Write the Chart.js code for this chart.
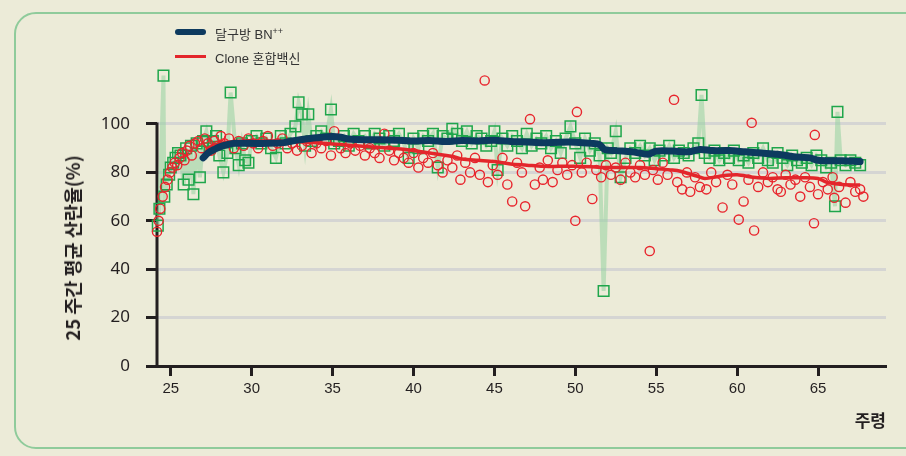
<!DOCTYPE html>
<html>
<head>
<meta charset="utf-8">
<script src="https://cdn.jsdelivr.net/npm/chart.js@4/dist/chart.umd.min.js"></script>
<style>
    html, body { margin: 0; padding: 0; background: #ecebd8; }
    #wrap { position: relative; width: 906px; height: 456px; overflow: hidden; }
    #panel {
        position: absolute; left: 14px; top: 12px; width: 960px; height: 433px;
        border: 2px solid #8fcb9b; border-radius: 22px; box-sizing: content-box;
    }
    #chart { position: absolute; left: 0; top: 0; }
    .legend-item { position: absolute; left: 175px; font: 13px 'Liberation Sans', 'Noto Sans CJK KR', sans-serif; color: #333; }
    .legend-item .swatch { position: absolute; left: 0; width: 31px; }
    .legend-item .label { position: absolute; left: 40px; white-space: nowrap; }
    .legend-item sup { font-size: 9px; vertical-align: 5px; line-height: 0; }
    #y-title {
        position: absolute; left: 72px; top: 248px; white-space: nowrap;
        transform: translate(-50%, -50%) rotate(-90deg);
        font: bold 18.5px 'Noto Sans CJK KR', sans-serif; color: #231f20;
    }
</style>
</head>
<body>
<div id="wrap">
    <div id="panel"></div>
    <canvas id="chart" width="906" height="456"></canvas>
    <div id="y-title">25 주간 평균 산란율(%)</div>
    <div class="legend-item" style="top: 24px;">
        <span class="swatch" style="top: 5px; height: 6px; border-radius: 3px; background: #0d3a5f;"></span>
        <span class="label">달구방 BN<sup>++</sup></span>
    </div>
    <div class="legend-item" style="top: 48px;">
        <span class="swatch" style="top: 7px; height: 2.5px; background: #e3262b;"></span>
        <span class="label">Clone 혼합백신</span>
    </div>
</div>
<script>
    'use strict';

    // weekly values [age in weeks, laying rate %]
    var bnPoints = [
        [24.2, 58], [24.3, 65], [24.55, 120], [24.6, 70], [24.75, 75], [24.9, 79], [25.0, 82], [25.15, 84],
        [25.3, 86], [25.45, 88], [25.6, 87], [25.8, 75], [25.95, 90], [26.1, 77], [26.25, 91], [26.4, 71],
        [26.6, 92], [26.8, 78], [27.0, 93], [27.2, 97], [27.4, 90], [27.6, 93], [27.8, 95], [28.0, 87],
        [28.25, 80], [28.5, 88], [28.7, 113], [29.0, 90], [29.2, 83], [29.4, 92], [29.6, 85], [29.8, 84],
        [30.0, 93], [30.3, 95], [30.6, 92], [30.9, 94], [31.2, 90], [31.5, 86], [31.8, 95], [32.1, 92],
        [32.4, 96], [32.7, 99], [32.9, 109], [33.1, 104], [33.3, 91], [33.5, 104], [33.7, 93], [34.0, 95],
        [34.3, 97], [34.6, 94], [34.9, 106], [35.1, 92], [35.4, 93], [35.7, 95], [36.0, 91], [36.3, 96],
        [36.6, 93], [37.0, 95], [37.3, 92], [37.6, 96], [37.9, 94], [38.2, 91], [38.5, 95], [38.8, 93],
        [39.1, 96], [39.4, 92], [39.7, 86], [40.0, 94], [40.3, 90], [40.6, 95], [40.9, 93], [41.2, 96],
        [41.5, 82], [41.8, 95], [42.1, 94], [42.4, 98], [42.7, 96], [43.0, 93], [43.3, 97], [43.6, 92],
        [43.9, 95], [44.2, 94], [44.5, 91], [44.8, 93], [45.0, 97], [45.2, 81], [45.5, 94], [45.8, 91],
        [46.1, 95], [46.4, 93], [46.7, 90], [47.0, 96], [47.3, 91], [47.6, 94], [47.9, 92], [48.2, 95],
        [48.5, 90], [48.8, 93], [49.1, 88], [49.4, 94], [49.7, 99], [50.0, 92], [50.3, 86], [50.6, 94],
        [50.9, 89], [51.2, 92], [51.5, 87], [51.75, 31], [52.0, 90], [52.2, 88], [52.5, 97], [52.8, 78],
        [53.1, 86], [53.4, 90], [53.7, 88], [54.0, 91], [54.3, 87], [54.6, 90], [54.9, 85], [55.2, 89],
        [55.5, 87], [55.8, 91], [56.1, 86], [56.4, 89], [56.7, 88], [57.0, 87], [57.3, 90], [57.6, 92],
        [57.8, 112], [58.0, 88], [58.3, 86], [58.6, 89], [58.9, 85], [59.2, 88], [59.5, 86], [59.8, 89],
        [60.1, 85], [60.4, 87], [60.7, 84], [61.0, 88], [61.3, 86], [61.6, 90], [61.9, 85], [62.2, 84],
        [62.5, 88], [62.8, 86], [63.1, 83], [63.4, 87], [63.7, 85], [64.0, 84], [64.3, 86], [64.6, 83],
        [64.9, 87], [65.2, 85], [65.5, 82], [65.8, 84], [66.05, 66], [66.2, 105], [66.4, 85], [66.7, 83],
        [67.0, 85], [67.3, 84], [67.6, 83]
    ];

    var clonePoints = [
        [24.15, 55.5], [24.25, 60], [24.35, 65], [24.5, 70], [24.65, 74], [24.8, 77], [24.95, 80], [25.1, 82],
        [25.25, 84], [25.4, 83], [25.55, 86], [25.7, 88], [25.85, 85], [26.0, 89], [26.15, 91], [26.3, 87],
        [26.5, 92], [26.7, 93], [26.9, 90], [27.1, 94], [27.3, 92], [27.5, 89], [27.7, 93], [27.9, 91],
        [28.1, 95], [28.3, 92], [28.6, 94], [28.9, 90], [29.2, 93], [29.5, 91], [29.8, 94], [30.1, 92],
        [30.4, 90], [30.7, 93], [31.0, 95], [31.3, 91], [31.6, 92], [31.9, 94], [32.2, 90], [32.5, 92],
        [32.8, 89], [33.1, 91], [33.4, 93], [33.7, 88], [34.0, 92], [34.3, 90], [34.6, 93], [34.9, 87],
        [35.1, 97], [35.5, 90], [35.8, 88], [36.1, 92], [36.4, 89], [36.7, 91], [37.0, 87], [37.3, 90],
        [37.6, 88], [37.9, 86], [38.2, 96], [38.5, 89], [38.8, 85], [39.1, 88], [39.4, 86], [39.7, 84],
        [40.0, 88], [40.3, 82], [40.6, 86], [40.9, 84], [41.2, 88], [41.5, 83], [41.8, 80], [42.1, 85],
        [42.4, 82], [42.7, 87], [42.9, 77], [43.2, 84], [43.5, 80], [43.8, 86], [44.1, 79], [44.4, 118],
        [44.6, 76], [44.9, 83], [45.2, 79], [45.5, 86], [45.8, 75], [46.1, 68], [46.4, 84], [46.7, 80],
        [46.9, 66], [47.2, 102], [47.5, 75], [47.8, 82], [48.0, 77], [48.3, 85], [48.6, 76], [48.9, 81],
        [49.2, 84], [49.5, 79], [49.8, 83], [50.0, 60], [50.1, 105], [50.4, 80], [50.7, 84], [51.05, 69],
        [51.3, 81], [51.6, 78], [51.9, 83], [52.2, 79], [52.5, 82], [52.8, 77], [53.1, 84], [53.4, 80],
        [53.7, 78], [54.0, 83], [54.3, 79], [54.6, 47.5], [54.8, 81], [55.1, 77], [55.4, 84], [55.7, 79],
        [56.1, 110], [56.3, 76], [56.6, 73], [56.9, 80], [57.1, 72], [57.4, 78], [57.7, 74], [58.1, 73],
        [58.4, 80], [58.7, 76], [59.1, 65.5], [59.4, 79], [59.7, 75], [60.1, 60.5], [60.4, 68], [60.7, 77],
        [60.9, 100.5], [61.05, 56], [61.3, 74], [61.6, 80], [61.9, 76], [62.2, 78], [62.5, 73], [62.7, 72],
        [63.0, 79], [63.3, 75], [63.6, 77], [63.9, 70], [64.2, 78], [64.5, 74], [64.75, 59], [64.8, 95.5],
        [65.0, 71], [65.3, 76], [65.6, 73], [65.9, 78], [66.0, 69.5], [66.3, 74], [66.7, 67.5], [67.0, 76],
        [67.3, 72], [67.6, 73], [67.8, 70]
    ];

    // 25-week moving averages
    var bnAverage = [
        [27.0, 86], [27.3, 88], [27.7, 89.5], [28.0, 90.5], [28.5, 91.5], [29.0, 92], [30.0, 92], [31.0, 92],
        [32.0, 92.3], [32.5, 93], [33.0, 93.5], [34.0, 94.3], [35.0, 94.8], [35.5, 94.5], [36.0, 93.8],
        [37.0, 93.5], [38.0, 93.5], [39.0, 93.3], [40.0, 93], [41.0, 93.2], [42.0, 92.8], [43.0, 93.2],
        [44.0, 93], [45.0, 93.3], [46.0, 92.8], [47.0, 92.6], [48.0, 92.3], [49.0, 92.5], [50.0, 92.5],
        [51.0, 92], [51.5, 91.5], [51.8, 89.5], [52.5, 89], [53.5, 88.5], [54.5, 87.5], [55.0, 88.8],
        [56.0, 88.8], [57.0, 88.5], [57.7, 89.5], [58.5, 89], [59.5, 89], [60.5, 88.5], [61.5, 88],
        [62.5, 87.5], [63.5, 86.5], [64.5, 86], [65.0, 85], [65.7, 84.8], [66.5, 84.8], [67.6, 84.5]
    ];

    var cloneAverage = [
        [27.2, 89.5], [27.8, 91.5], [28.5, 92.5], [29.5, 93], [30.5, 93], [31.5, 93], [32.5, 92.8],
        [33.5, 92.5], [34.5, 92], [35.5, 91.5], [36.5, 91], [37.5, 90.5], [38.5, 90], [39.5, 89.5],
        [40.5, 88.5], [41.5, 87.5], [42.5, 86.5], [43.0, 85.5], [44.0, 85], [45.0, 84.5], [46.0, 83.5],
        [47.0, 83], [48.0, 82.5], [49.0, 82.5], [50.0, 82.5], [51.0, 82.3], [52.0, 82], [53.0, 82],
        [54.0, 82], [55.0, 81.5], [56.0, 81], [56.5, 80.5], [57.5, 78.5], [58.0, 77.5], [59.0, 78.5],
        [60.0, 79], [61.0, 78], [62.0, 77.5], [63.0, 77.8], [64.0, 77.8], [65.0, 77.5], [65.5, 76],
        [66.5, 75], [67.6, 74.8]
    ];

    var weekTicks = [25, 30, 35, 40, 45, 50, 55, 60, 65];
    var rateTicks = [0, 20, 40, 60, 80, 100];

    var toXY = function (pairs) {
        return pairs.map(function (p) { return { x: p[0], y: p[1] }; });
    };

    var axisColor = '#231f20',
        gridColor = '#d5d5d3';

    // y axis line stops at the top tick (100), not at the chart area top
    var yAxisLine = {
        id: 'yAxisLine',
        beforeDatasetsDraw: function (chart) {
            var y = chart.scales.y,
                ctx = chart.ctx;

            ctx.save();
            ctx.strokeStyle = axisColor;
            ctx.lineWidth = 3;
            ctx.beginPath();
            ctx.moveTo(y.right, y.getPixelForValue(rateTicks[rateTicks.length - 1]) - 1.5);
            ctx.lineTo(y.right, y.getPixelForValue(0));
            ctx.stroke();
            ctx.restore();
        }
    };

    new Chart(document.getElementById('chart'), {
        type: 'scatter',
        data: {
            datasets: [
                {
                    label: '달구방 BN++',
                    type: 'line',
                    data: toXY(bnAverage),
                    borderColor: '#0d3a5f',
                    borderWidth: 7,
                    borderCapStyle: 'round',
                    borderJoinStyle: 'round',
                    pointRadius: 0,
                    tension: 0.3
                },
                {
                    label: 'Clone 혼합백신',
                    type: 'line',
                    data: toXY(cloneAverage),
                    borderColor: '#e3262b',
                    borderWidth: 3.5,
                    pointRadius: 0,
                    tension: 0.3
                },
                {
                    label: 'Clone weekly',
                    data: toXY(clonePoints),
                    pointStyle: 'circle',
                    pointRadius: 4.6,
                    pointBorderWidth: 1.4,
                    pointBorderColor: '#e8252d',
                    pointBackgroundColor: 'rgba(0,0,0,0)',
                    clip: false
                },
                {
                    label: 'BN weekly',
                    type: 'line',
                    data: toXY(bnPoints),
                    borderColor: 'rgba(150, 210, 160, 0.55)',
                    borderWidth: 4,
                    pointStyle: 'rect',
                    pointRadius: 7.5,
                    pointBorderWidth: 1.5,
                    pointBorderColor: '#1fa64b',
                    pointBackgroundColor: 'rgba(0,0,0,0)',
                    tension: 0,
                    clip: false
                }
            ]
        },
        plugins: [yAxisLine],
        options: {
            responsive: false,
            animation: false,
            events: [],
            layout: { padding: { left: 0, top: 63.5, right: 20, bottom: 0 } },
            plugins: {
                legend: { display: false },
                tooltip: { enabled: false }
            },
            scales: {
                x: {
                    type: 'linear',
                    min: 24.15,
                    max: 69.2,
                    afterFit: function (scale) { scale.height = 90; },
                    afterBuildTicks: function (scale) {
                        scale.ticks = weekTicks.map(function (v) { return { value: v }; });
                    },
                    border: { display: true, color: axisColor, width: 3 },
                    grid: {
                        display: true,
                        drawOnChartArea: false,
                        drawTicks: true,
                        tickLength: 10,
                        tickWidth: 3,
                        tickColor: axisColor
                    },
                    ticks: {
                        padding: 4,
                        color: axisColor,
                        font: { family: "'Liberation Sans Narrow', 'Liberation Sans', sans-serif", size: 15 },
                        callback: function (v) { return v; }
                    },
                    title: {
                        display: true,
                        text: '주령',
                        align: 'end',
                        color: axisColor,
                        padding: { top: 0, bottom: 25 },
                        font: { family: "'Noto Sans CJK KR', sans-serif", size: 17, weight: 'bold' }
                    }
                },
                y: {
                    min: 0,
                    max: 125,
                    afterFit: function (scale) { scale.width = 157; },
                    afterBuildTicks: function (scale) {
                        scale.ticks = rateTicks.map(function (v) { return { value: v }; });
                    },
                    border: { display: false },
                    grid: {
                        color: function (ctx) {
                            return ctx.tick && ctx.tick.value === 0 ? 'rgba(0,0,0,0)' : gridColor;
                        },
                        lineWidth: 3,
                        drawTicks: true,
                        tickLength: 11,
                        tickWidth: 3,
                        tickColor: axisColor
                    },
                    ticks: {
                        padding: 16,
                        color: axisColor,
                        font: { family: "'Noto Sans', sans-serif", size: 17 }
                    }
                }
            }
        }
    });
</script>
</body>
</html>
